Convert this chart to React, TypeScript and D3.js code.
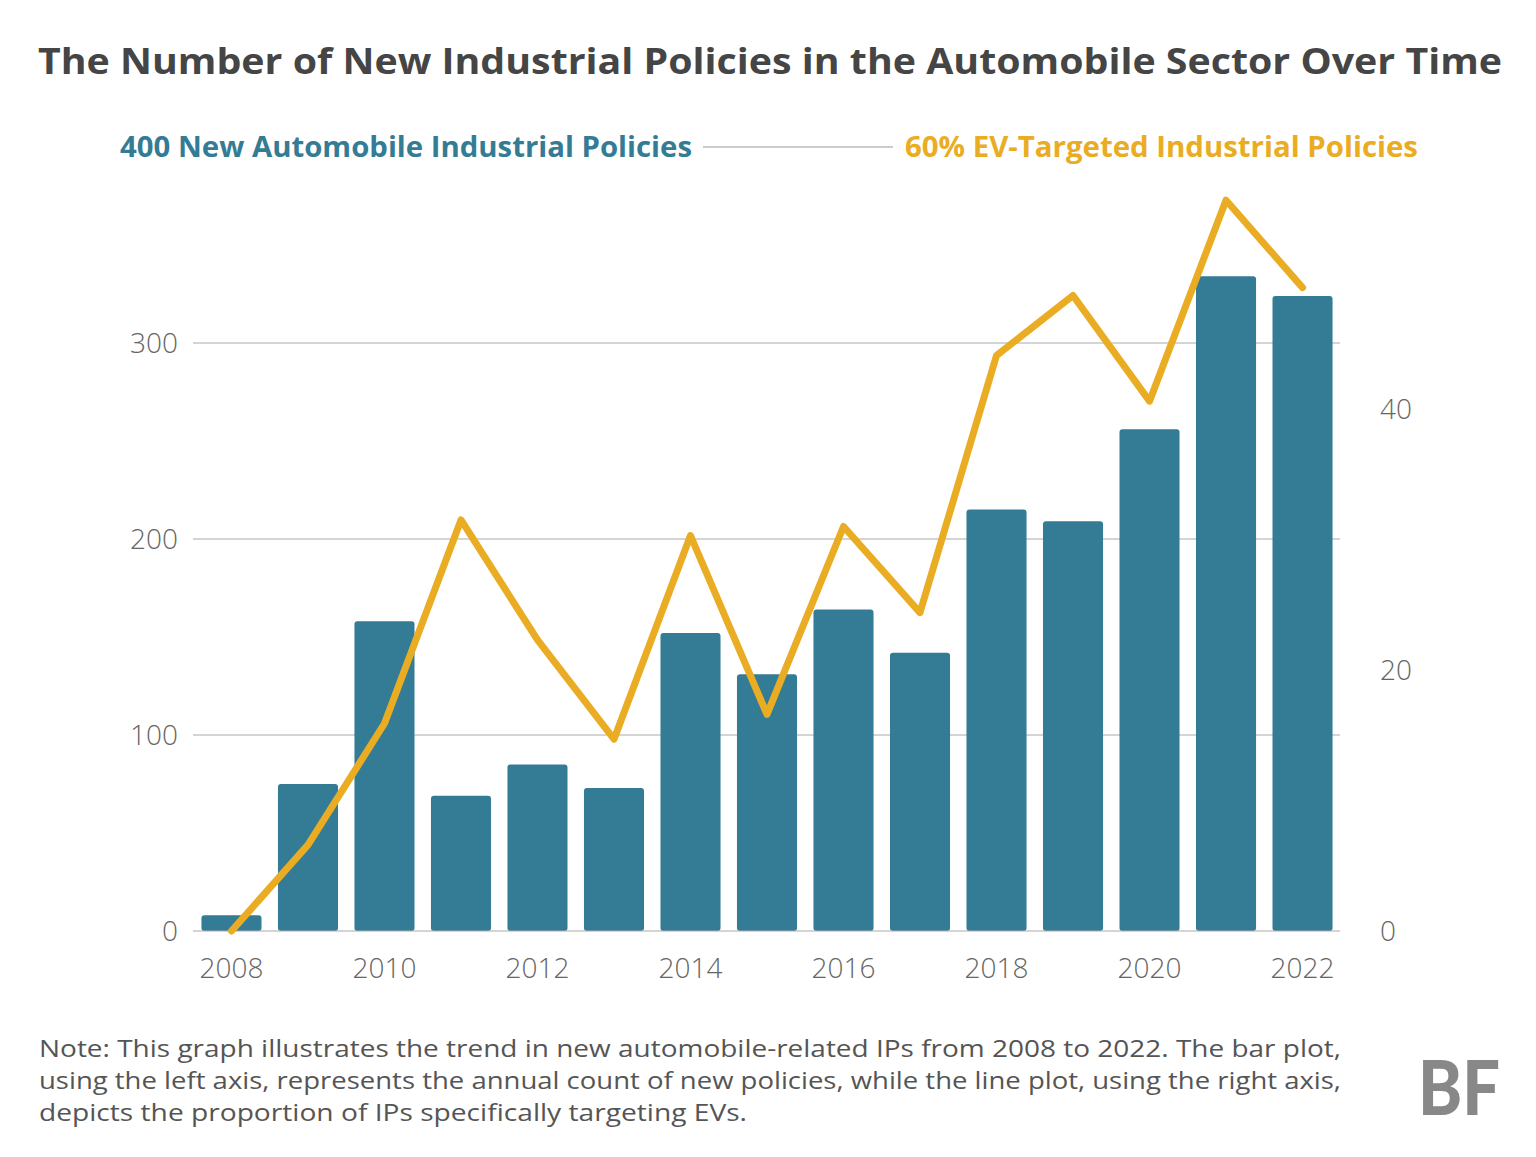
import * as d3 from "d3";

const years = d3.range(2008, 2023);
const policies = [8, 75, 158, 69, 85, 73, 152, 131, 164, 142, 215, 209, 256, 334, 324];
const evShare = [0, 6.6, 15.9, 31.5, 22.3, 14.7, 30.3, 16.6, 31, 24.4, 44.1, 48.7, 40.6, 56, 49.3];
const leftTicks = [0, 100, 200, 300];
const rightTicks = [0, 20, 40];
const xTickYears = [2008, 2010, 2012, 2014, 2016, 2018, 2020, 2022];
const noteLines = [
  "Note: This graph illustrates the trend in new automobile-related IPs from 2008 to 2022. The bar plot,",
  "using the left axis, represents the annual count of new policies, while the line plot, using the right axis,",
  "depicts the proportion of IPs specifically targeting EVs.",
];
const noteWidths = [1302, 1302, 708];

const TEAL = "#347c95";
const GOLD = "#e9ac23";
const FONT = "'Open Sans', Lato, sans-serif";

export default function App() {
  const W = 1536, H = 1157;
  const x = d3.scaleBand<number>().domain(years).range([193.8, 1340.2]).paddingInner(0.215).paddingOuter(0.1);
  const yL = d3.scaleLinear().domain([0, 300]).range([931, 343]);
  const yR = d3.scaleLinear().domain([0, 40]).range([931, 409]);
  const cx = (yr: number) => (x(yr) ?? 0) + x.bandwidth() / 2;
  const line = d3.line<number>().x((_, i) => cx(years[i])).y((d) => yR(d));

  return (
    <svg width={W} height={H} style={{ position: "absolute", left: 0, top: 0, background: "#fff" }} fontFamily={FONT}>
      <text x={38} y={74} fontSize={36} fontWeight={700} fill="#454545" textLength={1464} lengthAdjust="spacingAndGlyphs">
        The Number of New Industrial Policies in the Automobile Sector Over Time
      </text>
      <text x={120} y={157} fontSize={28} fontWeight={700} fill={TEAL} textLength={572} lengthAdjust="spacingAndGlyphs">
        400 New Automobile Industrial Policies
      </text>
      <line x1={703} x2={893} y1={147} y2={147} stroke="#999" strokeWidth={1} />
      <text x={905} y={157} fontSize={28} fontWeight={700} fill={GOLD} textLength={513} lengthAdjust="spacingAndGlyphs">
        60% EV-Targeted Industrial Policies
      </text>

      {leftTicks.map((t) => (
        <g key={t}>
          {t > 0 && <line x1={193} x2={1340} y1={yL(t)} y2={yL(t)} stroke="#aaa" strokeWidth={1} />}
          <text x={178} y={yL(t) + 10} textAnchor="end" fontSize={28} fill="#666" fontWeight={300}>{t}</text>
        </g>
      ))}
      {rightTicks.map((t) => (
        <text key={t} x={1380} y={yR(t) + 10} fontSize={28} fill="#666" fontWeight={300}>{t}</text>
      ))}

      {policies.map((v, i) => (
        <rect key={i} x={x(years[i])} y={yL(v)} width={x.bandwidth()} height={yL(0) - yL(v)} rx={3} fill={TEAL} />
      ))}
      <line x1={193} x2={1340} y1={931} y2={931} stroke="#aaa" strokeWidth={1} />

      <path d={line(evShare) ?? ""} fill="none" stroke={GOLD} strokeWidth={7} strokeLinejoin="round" strokeLinecap="round" />

      {xTickYears.map((yr) => (
        <text key={yr} x={cx(yr)} y={978} textAnchor="middle" fontSize={28} fill="#666" fontWeight={300}>{yr}</text>
      ))}

      {noteLines.map((l, i) => (
        <text key={i} x={39} y={1057 + i * 32} fontSize={23} fill="#555" textLength={noteWidths[i]} lengthAdjust="spacingAndGlyphs">{l}</text>
      ))}
      <text x={1418} y={1115} fontSize={76} fontWeight={900} fill="#888" fontFamily="Lato, sans-serif" textLength={82} lengthAdjust="spacingAndGlyphs">BF</text>
    </svg>
  );
}
